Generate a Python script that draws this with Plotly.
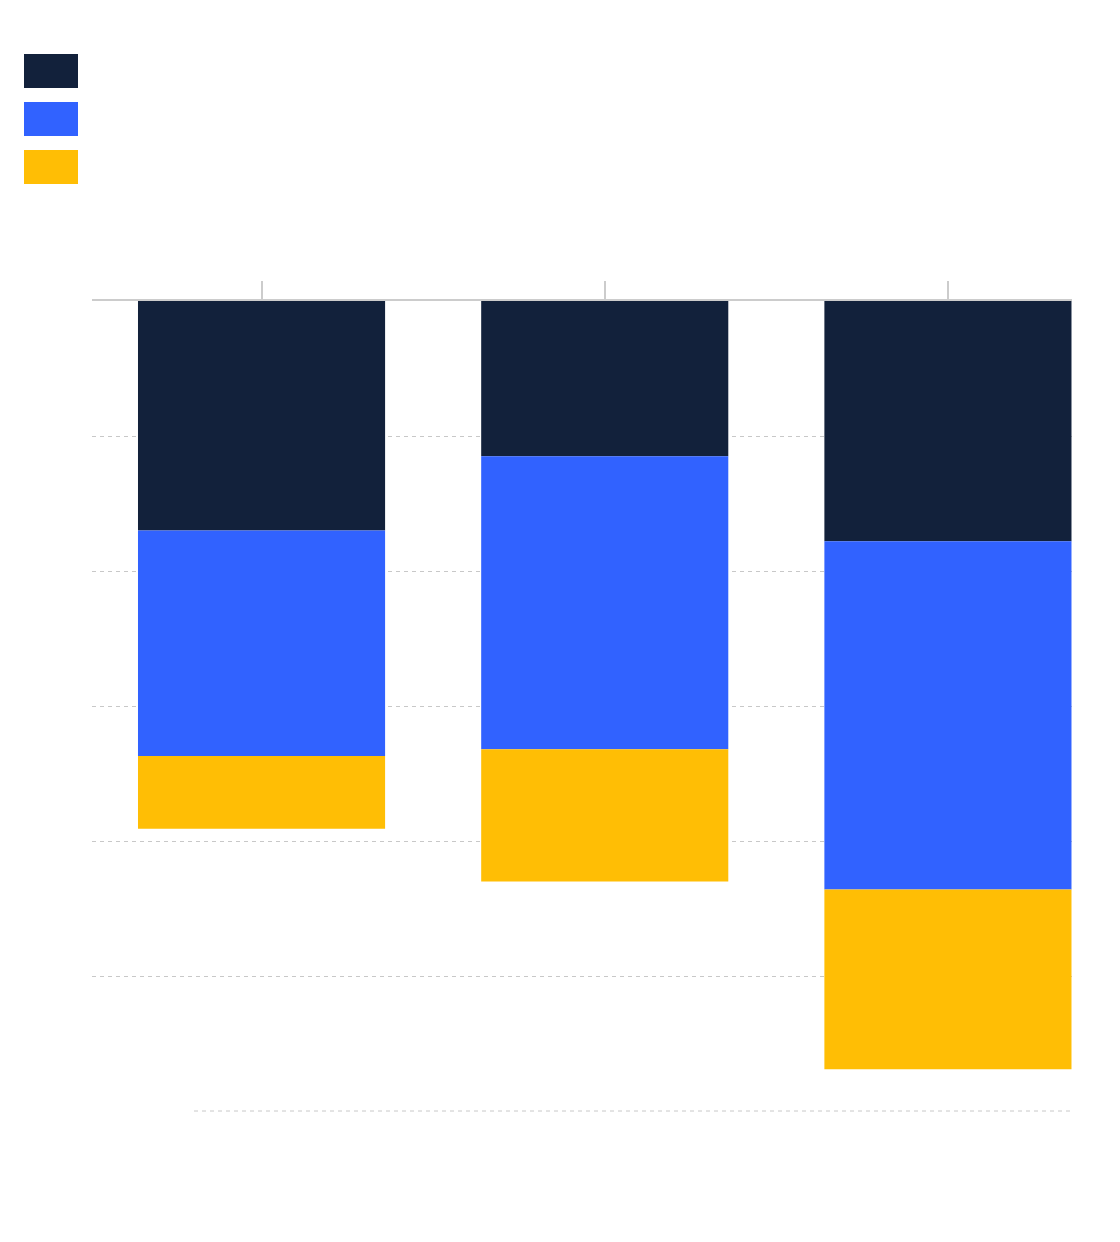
"""
Stacked negative bar chart, three series, no visible labels
"""

import plotly.graph_objects as go

# Data (gridlines every 10 units, zero at the top)
categories = ["A", "B", "C"]
series_names = ["Series 1", "Series 2", "Series 3"]
series_1 = [-17.0, -11.5, -17.8]
series_2 = [-16.7, -21.7, -25.8]
series_3 = [-5.4, -9.8, -13.3]
grid_ticks = [-10, -20, -30, -40, -50]
bottom_line = -60
y_floor = -62

colors = ["#12213b", "#3162ff", "#ffbe05"]

# page body adds an 8px offset, so margins are pulled in by that much
PLOT_LEFT = 92
PLOT_TOP = 301
PLOT_W = 980
PLOT_H = 837  # 13.5 px per unit over 62 units
PLOT_BOTTOM = PLOT_TOP + PLOT_H


def create_chart():
    """Build the stacked bar figure"""
    fig = go.Figure()

    for name, values, color in zip(series_names, [series_1, series_2, series_3], colors):
        fig.add_trace(go.Bar(
            x=categories,
            y=values,
            name=name,
            marker=dict(color=color, line=dict(width=0)),
            showlegend=False,
            hoverinfo='skip'
        ))

    # Legend keys drawn as plain swatches (the reference has no legend text)
    shapes = []
    for idx, color in enumerate(colors):
        top = 54 + 48 * idx
        shapes.append(dict(
            type='rect', xref='paper', yref='paper',
            x0=(24 - PLOT_LEFT) / PLOT_W, x1=(78 - PLOT_LEFT) / PLOT_W,
            y0=(PLOT_BOTTOM - (top + 34)) / PLOT_H, y1=(PLOT_BOTTOM - top) / PLOT_H,
            fillcolor=color, line=dict(width=0)
        ))

    # Bottom dashed reference line, shorter than the other gridlines
    shapes.append(dict(
        type='line', xref='paper', yref='y',
        x0=(194 - PLOT_LEFT) / PLOT_W, x1=(1070 - PLOT_LEFT) / PLOT_W,
        y0=bottom_line, y1=bottom_line,
        line=dict(color='#c8c8c8', width=1, dash='4px,4px'),
        layer='below'
    ))

    fig.update_layout(
        width=1120,
        height=1242,
        barmode='relative',
        bargap=0.28,
        plot_bgcolor='white',
        paper_bgcolor='white',
        font=dict(family='Inter, sans-serif', size=14),
        margin=dict(l=PLOT_LEFT - 8, r=1120 - (PLOT_LEFT - 8) - PLOT_W,
                    t=PLOT_TOP - 8, b=1242 - (PLOT_TOP - 8) - PLOT_H),
        showlegend=False,
        shapes=shapes,
        xaxis=dict(
            type='category',
            side='top',
            range=[-0.494, 2.3615],
            showline=True,
            linecolor='#cccccc',
            linewidth=2,
            ticks='outside',
            ticklen=18,
            tickwidth=2,
            tickcolor='#cccccc',
            showticklabels=False,
            showgrid=False,
            zeroline=False
        ),
        yaxis=dict(
            range=[y_floor, 0],
            tickvals=grid_ticks,
            showticklabels=False,
            showgrid=True,
            gridcolor='#c8c8c8',
            gridwidth=1,
            griddash='4px,4px',
            zeroline=False,
            showline=False
        )
    )

    return fig


def main():
    fig = create_chart()
    fig.write_html("out.html")


if __name__ == "__main__":
    main()
